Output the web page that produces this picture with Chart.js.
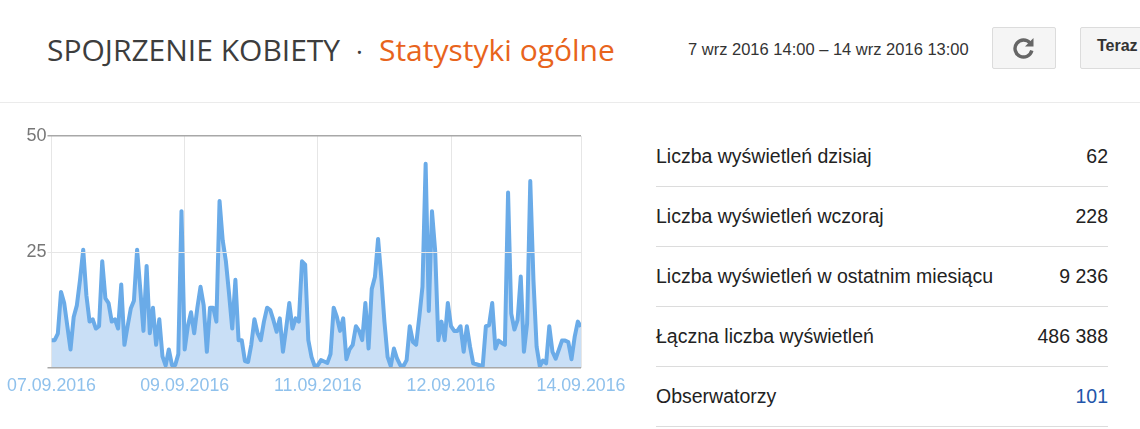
<!DOCTYPE html>
<html lang="pl">
<head>
<meta charset="utf-8">
<title>Statystyki ogólne</title>
<script src="https://cdn.jsdelivr.net/npm/chart.js@4"></script>
<style>
    html, body { margin: 0; padding: 0; background: #fff; overflow: hidden; }
    body { width: 1140px; height: 429px; position: relative; font-family: "Liberation Sans", Arial, sans-serif; }
    .title { position: absolute; left: 47px; top: 30px; font: 30px/40px "Open Sans", sans-serif; color: #3d3d3d; white-space: nowrap; }
    .title .dot { margin: 0 16px 0 16px; font-size: 26px; }
    .title .sub { color: #e8641c; }
    .range { position: absolute; left: 688px; top: 39px; font-size: 16.5px; line-height: 20px; color: #333; white-space: nowrap; }
    .btn { position: absolute; top: 27px; height: 40px; background: #f5f5f5; border: 1px solid #dcdcdc; border-radius: 2px; }
    #refresh { left: 992px; width: 62px; }
    #now { left: 1080px; width: 80px; font: bold 16px/36px "Liberation Sans", Arial, sans-serif; color: #333; padding-left: 16px; }
    .rule { position: absolute; left: 0; top: 102px; width: 1140px; height: 1px; background: #ebebeb; }
    #chartBox { position: absolute; left: 0; top: 120px; width: 640px; height: 280px; filter: blur(0.4px); }
    #stats { position: absolute; left: 656px; top: 127px; width: 452px; }
    .row { height: 59px; border-bottom: 1px solid #dcdcdc; display: flex; justify-content: space-between; align-items: center; font: 19.5px "Liberation Sans", Arial, sans-serif; color: #222; }
    .row:last-child .val { color: #2255aa; }
</style>
</head>
<body>
<div class="title">SPOJRZENIE KOBIETY<span class="dot">·</span><span class="sub">Statystyki ogólne</span></div>
<div class="range">7 wrz 2016 14:00 – 14 wrz 2016 13:00</div>
<div class="btn" id="refresh">
    <svg width="62" height="40" viewBox="0 0 62 40">
        <path d="M37 15 A8.5 8.5 0 1 0 38.8 22.5" fill="none" stroke="#666" stroke-width="3.4"/>
        <path d="M40.5 10 V18.5 H32 Z" fill="#666"/>
    </svg>
</div>
<div class="btn" id="now">Teraz</div>
<div class="rule"></div>
<div id="chartBox"><canvas id="views"></canvas></div>
<div id="stats"></div>

<script>
// hourly page views, 7 wrz 14:00 - 14 wrz 13:00
const views = [
    6, 6, 7.4, 16.4, 14, 9, 4, 11, 13.5, 19, 25.5, 15.7, 10, 10.5, 8.5, 9, 23, 15, 14, 10, 10.5,
    8.5, 18, 5, 9, 12.8, 14.5, 25.5, 17, 8, 22, 7.5, 13, 5, 10.5, 2.5, 0.5, 4, 0.6, 0.6, 3, 33.8,
    4, 9, 12, 7.5, 13, 17.5, 13.5, 3.5, 13, 13, 10, 36, 27.5, 23, 16, 8.5, 19, 6, 6, 1.5, 1.3,
    5, 10.5, 7.5, 6, 10, 13, 12.5, 10.3, 7.8, 10.7, 3.5, 8.5, 14, 8.5, 10.7, 10, 23, 22.3, 6,
    2.4, 0.4, 0.6, 1.7, 1.4, 1.1, 3, 13, 11, 8, 10.7, 1.9, 4, 5, 9, 8, 6, 14, 4.2, 17, 19.6,
    27.8, 19.6, 10, 2.4, 0.4, 4.2, 2, 0.6, 0.4, 1.7, 9, 5.6, 5, 11, 17.5, 44, 12.3, 33.8, 25.3,
    6, 10, 6, 14, 9, 8, 8, 9, 3.5, 9, 4.6, 1, 0.8, 0.6, 0.4, 9, 9.2, 14, 4.2, 5.9, 5.4, 5, 37.8,
    11.7, 8.3, 10.3, 19.7, 3.5, 9.6, 40.3, 19, 4.6, 0.4, 1.6, 1, 9, 3.5, 2, 3.9, 5.9, 5.9, 5.6,
    1.9, 6.7, 10, 8.9
];
const hours = views.map((_, i) => i);

const tickHours = [0, 42, 84, 126, 167];
const tickLabels = ['07.09.2016', '09.09.2016', '11.09.2016', '12.09.2016', '14.09.2016'];
const yTicks = [0, 25, 50];

const statNames = [
    'Liczba wyświetleń dzisiaj',
    'Liczba wyświetleń wczoraj',
    'Liczba wyświetleń w ostatnim miesiącu',
    'Łączna liczba wyświetleń',
    'Obserwatorzy'
];
const statValues = ['62', '228', '9 236', '486 388', '101'];

// Stats table on the right
document.getElementById('stats').innerHTML = statNames.map((name, i) =>
    `<div class="row"><span>${name}</span><span class="val">${statValues[i]}</span></div>`
).join('');

const ctx = document.getElementById('views').getContext('2d');
new Chart(ctx, {
    type: 'line',
    data: {
        labels: hours,
        datasets: [{
            data: views,
            borderColor: '#6aabe8',
            backgroundColor: '#c9dff6',
            borderWidth: 4,
            borderJoinStyle: 'round',
            pointRadius: 0,
            tension: 0,
            fill: 'origin',
            clip: 0
        }]
    },
    options: {
        responsive: true,
        maintainAspectRatio: false,
        animation: false,
        layout: { padding: { top: 16, right: 59 } },
        plugins: { legend: { display: false }, tooltip: { enabled: false } },
        scales: {
            x: {
                type: 'category',
                offset: false,
                afterBuildTicks: (scale) => {
                    scale.ticks = tickHours.map((value) => ({ value }));
                },
                afterFit: (scale) => { scale.height = 32; },
                border: { display: false },
                grid: {
                    color: '#e6e6e6',
                    lineWidth: 1,
                    drawTicks: false
                },
                ticks: {
                    autoSkip: false,
                    maxRotation: 0,
                    padding: 7,
                    color: '#8fc1ec',
                    font: { family: '"Liberation Sans", Arial, sans-serif', size: 17.8 },
                    callback: (value) => tickLabels[tickHours.indexOf(value)]
                }
            },
            y: {
                min: 0,
                max: 50,
                afterBuildTicks: (scale) => {
                    scale.ticks = yTicks.map((value) => ({ value }));
                },
                afterFit: (scale) => { scale.width = 50; },
                border: { display: false },
                grid: {
                    z: 1,
                    color: (c) => (c.tick && c.tick.value === 25 ? '#e6e6e6' : '#a8a8a8'),
                    lineWidth: (c) => (c.tick && c.tick.value === 25 ? 1 : 1.5),
                    tickLength: 4
                },
                ticks: {
                    padding: 1,
                    color: '#777',
                    font: { family: '"Liberation Sans", Arial, sans-serif', size: 18 },
                    callback: (value) => (value === 0 ? '' : String(value))
                }
            }
        }
    }
});
</script>
</body>
</html>
